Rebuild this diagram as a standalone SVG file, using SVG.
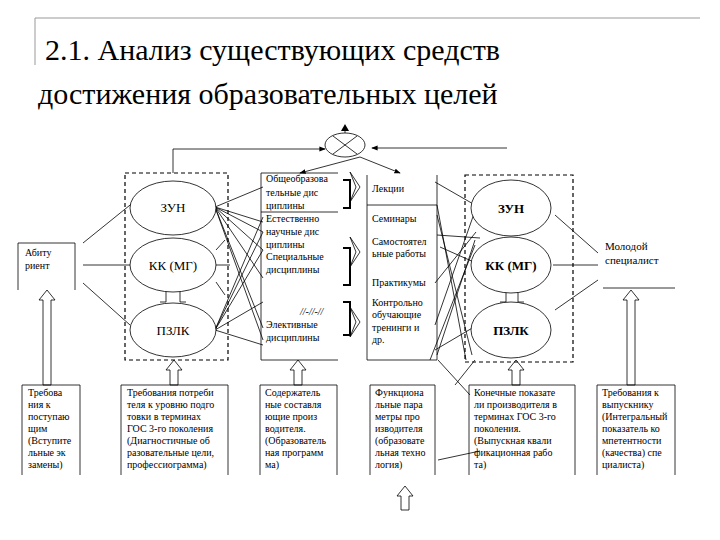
<svg xmlns="http://www.w3.org/2000/svg" width="720" height="540" viewBox="0 0 720 540" font-family="'Liberation Serif','DejaVu Serif',serif">
<defs>
<marker id="ar" markerWidth="8" markerHeight="8" refX="7" refY="4" orient="auto"><path d="M0,1 L8,4 L0,7 Z" fill="#000"/></marker>
<style>
text{font-family:'Liberation Serif','DejaVu Serif',serif;fill:#000}
.t{font-size:10px}
.c{font-size:13px}
.l{stroke:#000;stroke-width:0.8;fill:none}
.d{stroke:#000;stroke-width:1.2;fill:none;stroke-dasharray:4,3}
.e{stroke:#000;stroke-width:0.8;fill:#fff}
.h{stroke:#000;stroke-width:0.8;fill:#fff}
</style>
</defs>
<rect width="720" height="540" fill="#fff"/>
<path d="M35,65 V18 H700" stroke="#999" stroke-width="1" fill="none"/>
<text x="45" y="60" font-size="30">2.1.  Анализ существующих средств</text>
<text x="38" y="104" font-size="30">достижения образовательных целей</text>

<g id="connectors">
<path class="l" d="M173,173 V149 H325" marker-end="url(#ar)"/>
<path class="l" d="M507,148 H372" marker-end="url(#ar)"/>
<path class="l" d="M360,157 L300,173" marker-end="url(#ar)"/>
<path class="l" d="M360,157 L400,173" marker-end="url(#ar)"/>
<path class="l" d="M345,133 V126"/>
<path d="M341,131 L345,124 L349,131 Z"/>
<path class="l" d="M83,243 L140,197 M83,265 H131 M83,283 L130,325"/>
<path class="l" d="M215,207 L263,187 M215,207 L263,222 M215,207 L263,232 M215,207 L263,250 M215,207 L263,278 M215,207 L263,328 M215,207 L263,340"/>
<path class="l" d="M214,265 H230 M216,250 L225,240 M216,282 L225,295"/>
<path class="l" d="M215,330 L263,217 M215,330 L263,232 M215,330 L263,250 M215,330 L263,302 M215,330 L263,345"/>
<path class="l" d="M435,182 L475,205 M435,283 L476,232 M437,235 L480,238 M440,247 L476,263 M435,350 L474,327 M437,205 L466,360 M437,215 L472,355 M430,360 L475,245 M435,325 L476,208 M437,355 L475,240"/>
<path class="l" d="M455,385 L475,360 M470,395 L438,360 M438,460 L480,451"/>
<path class="l" d="M555,215 L598,253 M553,265 H598 M555,310 L598,280"/>
<path class="l" d="M603,288 H675"/>
<path class="l" d="M350,202 L356,187 L350,172 L360,187 Z M350,267 L356,252 L350,237 L360,252 Z M350,337 L356,322 L350,307 L360,322 Z"/>
<path d="M343,180 H350 V208 H343 M343,248 H350 V285 H343 M343,302 H350 V335 H343" stroke="#000" stroke-width="2" fill="none"/>
<path class="l" d="M160,288 H166 V302 H160 M186,288 H180 V302 H186 M500,288 H506 V302 H500 M524,288 H518 V302 H524"/>
</g>

<g id="arrows">
<path class="h" d="M43,385 V300 H39 L47,290 L55,300 H51 V385 Z"/>
<path class="h" d="M170,385 V370 H166 L174,360 L182,370 H178 V385 Z"/>
<path class="h" d="M294,385 V370 H290 L298,360 L306,370 H302 V385 Z"/>
<path class="h" d="M512,385 V370 H508 L516,360 L524,370 H520 V385 Z"/>
<path class="h" d="M627,385 V300 H623 L631,290 L639,300 H635 V385 Z"/>
<path class="h" d="M401,510 V496 H397 L405,486 L413,496 H409 V510 Z"/>
</g>

<g id="top-node"><ellipse class="e" cx="345" cy="145" rx="20" ry="12"/><path class="l" d="M333,136 L357,154 M357,136 L333,154"/></g>

<g id="abiturient"><path class="l" d="M18,290 V243 H75 V290"/><text class="t" x="25" y="256">Абиту</text><text class="t" x="25" y="269">риент</text></g>

<g id="left-group">
<rect class="d" x="125" y="173" width="103" height="187"/>
<ellipse class="e" cx="173" cy="208" rx="43" ry="27"/><text class="c" x="173" y="212" text-anchor="middle">ЗУН</text>
<ellipse class="e" cx="173" cy="265" rx="43" ry="27"/><text class="c" x="173" y="270" text-anchor="middle">КК (МГ)</text>
<ellipse class="e" cx="173" cy="330" rx="43" ry="27"/><text class="c" x="173" y="335" text-anchor="middle">ПЗЛК</text>
</g>

<g id="disciplines">
<path class="l" d="M338,173 H261 V360 H338 M261,212 H338"/>
<text class="t" x="266" y="182">Общеобразова</text><text class="t" x="266" y="196">тельные дис</text><text class="t" x="266" y="209">циплины</text>
<text class="t" x="266" y="222">Естественно</text><text class="t" x="266" y="235">научные дис</text><text class="t" x="266" y="248">циплины</text>
<text class="t" x="266" y="260">Специальные</text><text class="t" x="266" y="273">дисциплины</text>
<text class="t" x="300" y="315" font-style="italic">//-//-//</text>
<text class="t" x="266" y="328">Элективные</text><text class="t" x="266" y="341">дисциплины</text>
</g>

<g id="forms">
<path class="l" d="M367,175 V360 H437 V175 M367,205 H437"/>
<text class="t" x="372" y="192">Лекции</text>
<text class="t" x="372" y="222">Семинары</text>
<text class="t" x="372" y="245">Самостоятел</text><text class="t" x="372" y="257">ьные работы</text>
<text class="t" x="372" y="286">Практикумы</text>
<text class="t" x="372" y="306">Контрольно</text><text class="t" x="372" y="318">обучающие</text><text class="t" x="372" y="331">тренинги   и</text><text class="t" x="372" y="343">др.</text>
</g>

<g id="right-group">
<rect class="d" x="465" y="175" width="108" height="187"/>
<ellipse class="e" cx="511" cy="208" rx="40" ry="28"/><text class="c" x="511" y="213" text-anchor="middle" font-weight="bold">ЗУН</text>
<ellipse class="e" cx="511" cy="265" rx="40" ry="28"/><text class="c" x="511" y="270" text-anchor="middle" font-weight="bold">КК (МГ)</text>
<ellipse class="e" cx="511" cy="330" rx="40" ry="28"/><text class="c" x="511" y="335" text-anchor="middle" font-weight="bold">ПЗЛК</text>
</g>

<g id="specialist"><text x="605" y="250" font-size="11">Молодой</text><text x="605" y="264" font-size="11">специалист</text></g>

<g id="req1"><path class="l" d="M22,475 V385 H80 V475"/>
<text class="t" x="28" y="396">Требова</text><text class="t" x="28" y="408">ния        к</text><text class="t" x="28" y="420">поступаю</text><text class="t" x="28" y="432">щим</text><text class="t" x="28" y="444">(Вступите</text><text class="t" x="28" y="456">льные эк</text><text class="t" x="28" y="468">замены)</text></g>
<g id="req2"><path class="l" d="M121,475 V385 H228 V475"/>
<text class="t" x="127" y="396">Требования потреби</text><text class="t" x="127" y="408">теля к уровню подго</text><text class="t" x="127" y="420">товки в терминах</text><text class="t" x="127" y="432">ГОС 3-го поколения</text><text class="t" x="127" y="444">(Диагностичные об</text><text class="t" x="127" y="456">разовательные цели,</text><text class="t" x="127" y="468">профессиограмма)</text></g>
<g id="req3"><path class="l" d="M260,475 V385 H337 V475"/>
<text class="t" x="265" y="396">Содержатель</text><text class="t" x="265" y="408">ные составля</text><text class="t" x="265" y="420">ющие произ</text><text class="t" x="265" y="432">водителя.</text><text class="t" x="265" y="444">(Образователь</text><text class="t" x="265" y="456">ная программ</text><text class="t" x="265" y="468">ма)</text></g>
<g id="req4"><path class="l" d="M370,475 V385 H435 V475"/>
<text class="t" x="375" y="396">Функциона</text><text class="t" x="375" y="408">льные пара</text><text class="t" x="375" y="420">метры про</text><text class="t" x="375" y="432">изводителя</text><text class="t" x="375" y="444">(образовате</text><text class="t" x="375" y="456">льная техно</text><text class="t" x="375" y="468">логия)</text></g>
<g id="req5"><path class="l" d="M469,475 V385 H575 V475"/>
<text class="t" x="474" y="396">Конечные показате</text><text class="t" x="474" y="408">ли производителя в</text><text class="t" x="474" y="420">терминах ГОС 3-го</text><text class="t" x="474" y="432">поколения.</text><text class="t" x="474" y="444">(Выпускная квали</text><text class="t" x="474" y="456">фикационная рабо</text><text class="t" x="474" y="468">та)</text></g>
<g id="req6"><path class="l" d="M597,475 V385 H675 V475"/>
<text class="t" x="602" y="396">Требования к</text><text class="t" x="602" y="408">выпускнику</text><text class="t" x="602" y="420">(Интегральный</text><text class="t" x="602" y="432">показатель ко</text><text class="t" x="602" y="444">мпетентности</text><text class="t" x="602" y="456">(качества) спе</text><text class="t" x="602" y="468">циалиста)</text></g>
</svg>
